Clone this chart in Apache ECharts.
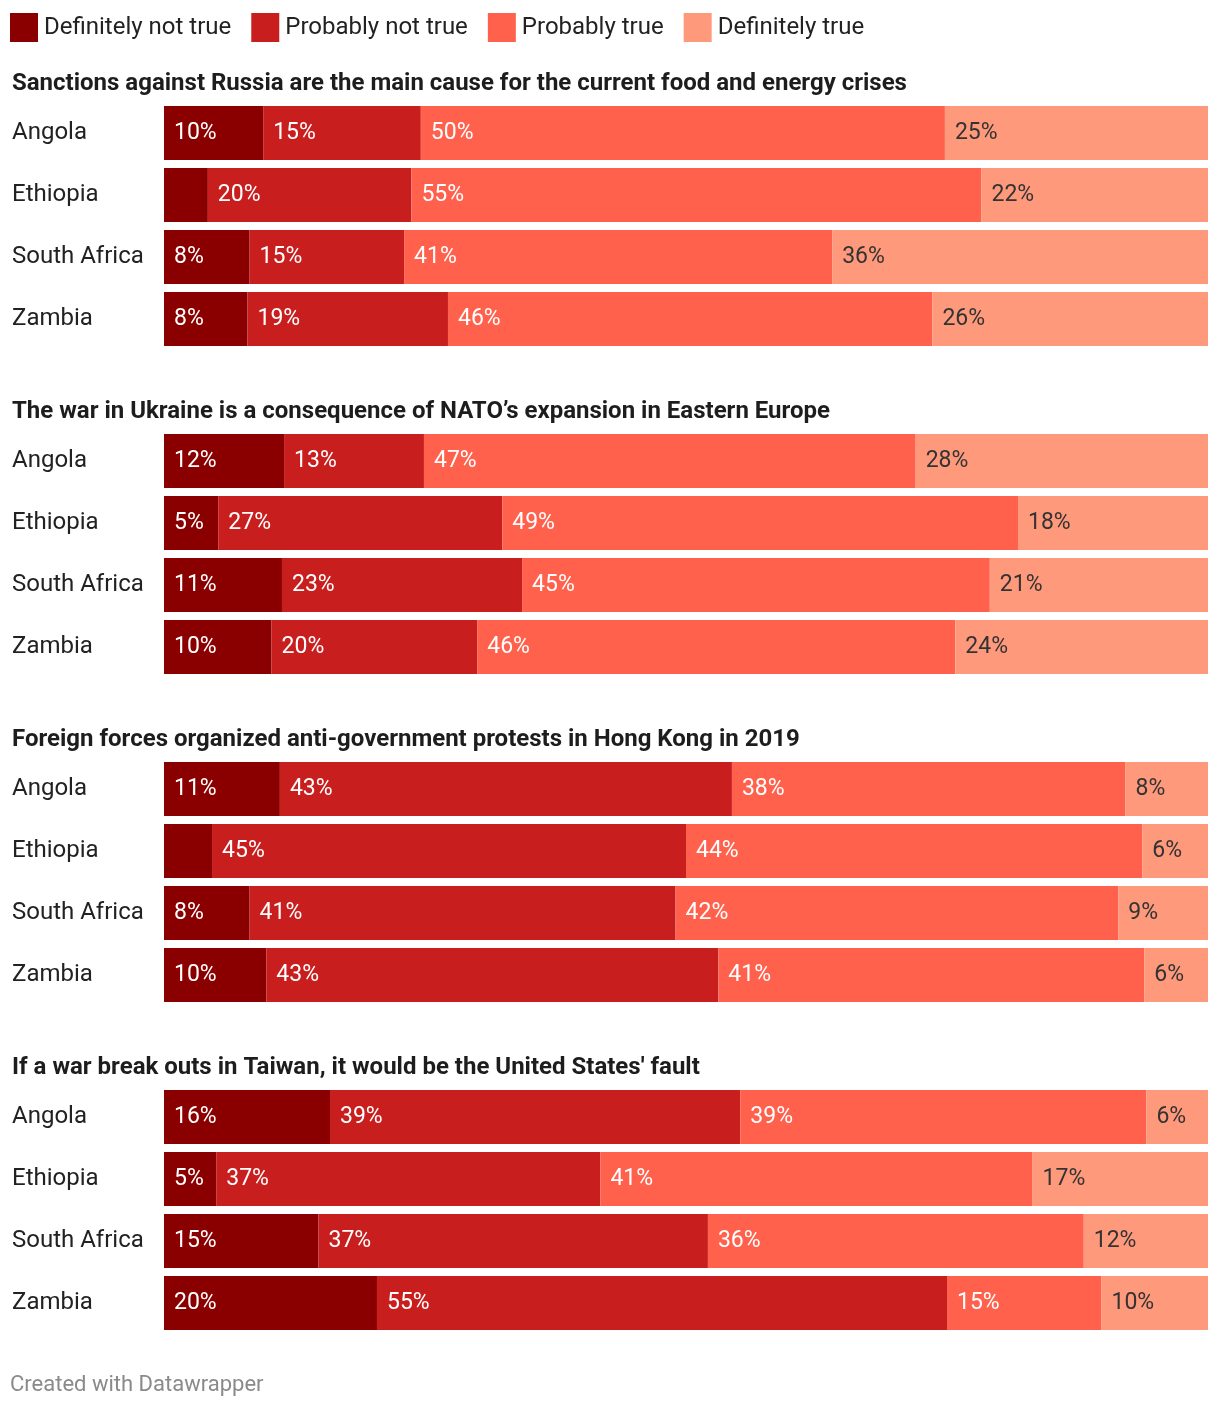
<!DOCTYPE html>
<html>
<head>
<meta charset="utf-8">
<script src="https://cdn.jsdelivr.net/npm/echarts@6/dist/echarts.min.js"></script>
<style>
html,body{margin:0;padding:0;background:#fff;}
#chart{width:1220px;height:1408px;}
</style>
</head>
<body>
<div id="chart"></div>
<script>
// ---- data ----
const countries = ['Angola', 'Ethiopia', 'South Africa', 'Zambia'];
const answers = ['Definitely not true', 'Probably not true', 'Probably true', 'Definitely true'];
const questions = [
  'Sanctions against Russia are the main cause for the current food and energy crises',
  'The war in Ukraine is a consequence of NATO\u2019s expansion in Eastern Europe',
  'Foreign forces organized anti-government protests in Hong Kong in 2019',
  "If a war break outs in Taiwan, it would be the United States' fault"
];
// Q1: Sanctions
const q1DefinitelyNot = [9.5, 4.2, 8.2, 8.0];
const q1ProbablyNot   = [15.1, 19.5, 14.8, 19.2];
const q1ProbablyTrue  = [50.2, 54.6, 41.0, 46.4];
const q1DefinitelyTrue= [25.2, 21.7, 36.0, 26.4];
// Q2: NATO
const q2DefinitelyNot = [11.5, 5.2, 11.3, 10.3];
const q2ProbablyNot   = [13.4, 27.2, 23.0, 19.7];
const q2ProbablyTrue  = [47.1, 49.4, 44.8, 45.8];
const q2DefinitelyTrue= [28.0, 18.2, 20.9, 24.2];
// Q3: Hong Kong
const q3DefinitelyNot = [11.1, 4.6, 8.2, 9.8];
const q3ProbablyNot   = [43.3, 45.4, 40.8, 43.3];
const q3ProbablyTrue  = [37.7, 43.7, 42.4, 40.8];
const q3DefinitelyTrue= [7.9, 6.3, 8.6, 6.1];
// Q4: Taiwan
const q4DefinitelyNot = [15.9, 5.0, 14.8, 20.4];
const q4ProbablyNot   = [39.3, 36.8, 37.3, 54.6];
const q4ProbablyTrue  = [38.9, 41.4, 36.0, 14.8];
const q4DefinitelyTrue= [5.9, 16.8, 11.9, 10.2];

const panels = [
  [q1DefinitelyNot, q1ProbablyNot, q1ProbablyTrue, q1DefinitelyTrue],
  [q2DefinitelyNot, q2ProbablyNot, q2ProbablyTrue, q2DefinitelyTrue],
  [q3DefinitelyNot, q3ProbablyNot, q3ProbablyTrue, q3DefinitelyTrue],
  [q4DefinitelyNot, q4ProbablyNot, q4ProbablyTrue, q4DefinitelyTrue]
];

// ---- style ----
const colors = ['#8a0000', '#c81e1e', '#ff614c', '#ff997c'];
const labelColors = ['#ffffff', '#ffffff', '#ffffff', '#333333'];
const FONT = 'Roboto, "Noto Sans", sans-serif';
const gridTop0 = 102, panelPitch = 328, rowPitch = 62;

const grids = [], xAxes = [], yAxes = [], series = [], titles = [];
panels.forEach((panel, p) => {
  const top = gridTop0 + p * panelPitch;
  grids.push({left: 164, right: 12, top: top, height: rowPitch * countries.length});
  xAxes.push({gridIndex: p, type: 'value', min: 0, max: 100, show: false});
  yAxes.push({
    gridIndex: p, type: 'category', data: countries, inverse: true,
    axisLine: {show: false}, axisTick: {show: false}, splitLine: {show: false},
    axisLabel: {align: 'left', margin: 152, fontSize: 24, color: '#222', fontFamily: FONT, padding: [5, 0, 0, 0]}
  });
  titles.push({
    text: questions[p], left: 12, top: top - 32, padding: 0,
    textStyle: {fontSize: 24, fontWeight: 'bold', color: '#1d1d1d', fontFamily: FONT, lineHeight: 28}
  });
  panel.forEach((vals, a) => {
    series.push({
      name: answers[a], type: 'bar', stack: 'q' + p,
      xAxisIndex: p, yAxisIndex: p, barWidth: 54,
      data: vals,
      itemStyle: {color: colors[a]},
      emphasis: {disabled: true},
      label: {
        show: true, position: 'insideLeft', distance: 10,
        fontSize: 23, fontFamily: FONT, color: labelColors[a], padding: [2, 0, 0, 0],
        formatter: (d) => d.value < 4.8 ? '' : Math.round(d.value) + '%'
      }
    });
  });
});

const chart = echarts.init(document.getElementById('chart'), null, {renderer: 'canvas'});
chart.setOption({
  animation: false,
  color: colors,
  title: titles,
  legend: {
    data: answers, left: 10, top: 13, padding: 0,
    icon: 'rect', itemWidth: 28, itemHeight: 29, itemGap: 20,
    selectedMode: false,
    textStyle: {fontSize: 24, color: '#222', fontFamily: FONT, padding: [0, 0, 0, 1]}
  },
  grid: grids,
  xAxis: xAxes,
  yAxis: yAxes,
  series: series,
  graphic: [{
    type: 'text', left: 10, top: 1374,
    style: {text: 'Created with Datawrapper', fontSize: 22, fill: '#8a8a8a', fontFamily: FONT}
  }]
});
</script>
</body>
</html>
